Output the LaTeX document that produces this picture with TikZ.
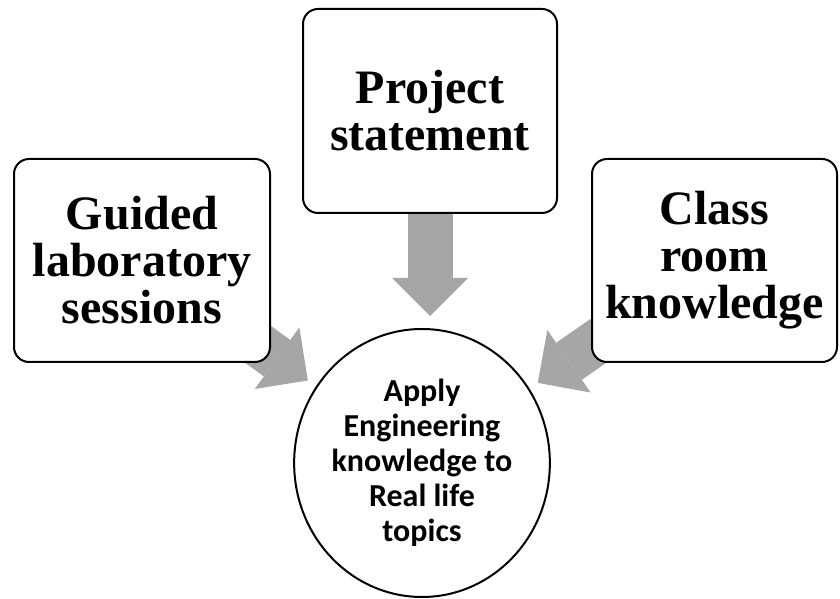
\documentclass[tikz,border=0pt]{standalone}
\usepackage{fontspec}
\setmainfont{Liberation Serif}
\newfontfamily\calibrifont{Carlito}
\usetikzlibrary{arrows.meta,shapes.geometric,backgrounds}

\begin{document}
\begin{tikzpicture}[x=1pt,y=1pt,line join=round,line cap=round]

  \definecolor{arrowgray}{RGB}{166,166,166}
  \tikzset{
    sourcebox/.style={draw,line width=2pt,fill=white,rounded corners=15pt,
      inner sep=0pt,align=center,font=\fontsize{48}{47}\selectfont\bfseries},
    bigarrow/.style={draw=arrowgray,line width=45pt,line cap=butt,
      -{Triangle[width=76pt,length=38pt,line width=0pt]},shorten >=10pt},
  }
  \useasboundingbox (0,0) rectangle (840,599);

  % ---- three inputs ----
  \node[sourcebox,minimum width=256,minimum height=203] (guided) at (142,338.5)
    {Guided\\laboratory\\sessions};
  \node[sourcebox,minimum width=254,minimum height=204] (project) at (430,488)
    {Project\\statement};
  \node[sourcebox,minimum width=245,minimum height=203] (classroom) at (714.5,338.5)
    {Class\\room\\knowledge};

  % ---- outcome ----
  \node[ellipse,draw,line width=2pt,fill=white,inner sep=0pt,
    minimum width=254,minimum height=268,align=center,
    font=\calibrifont\fontsize{32}{35}\selectfont\bfseries] (apply) at (422,136)
    {Apply\\Engineering\\knowledge to\\Real life\\topics};

  % ---- block arrows, tucked under the boxes ----
  \begin{scope}[on background layer]
    \draw[bigarrow] (guided.center) -- (apply);
    \draw[bigarrow] (classroom.center) -- (apply);
    \draw[bigarrow,shorten >=12pt] (project.center) -- (project.center |- apply.north);
  \end{scope}

\end{tikzpicture}
\end{document}
